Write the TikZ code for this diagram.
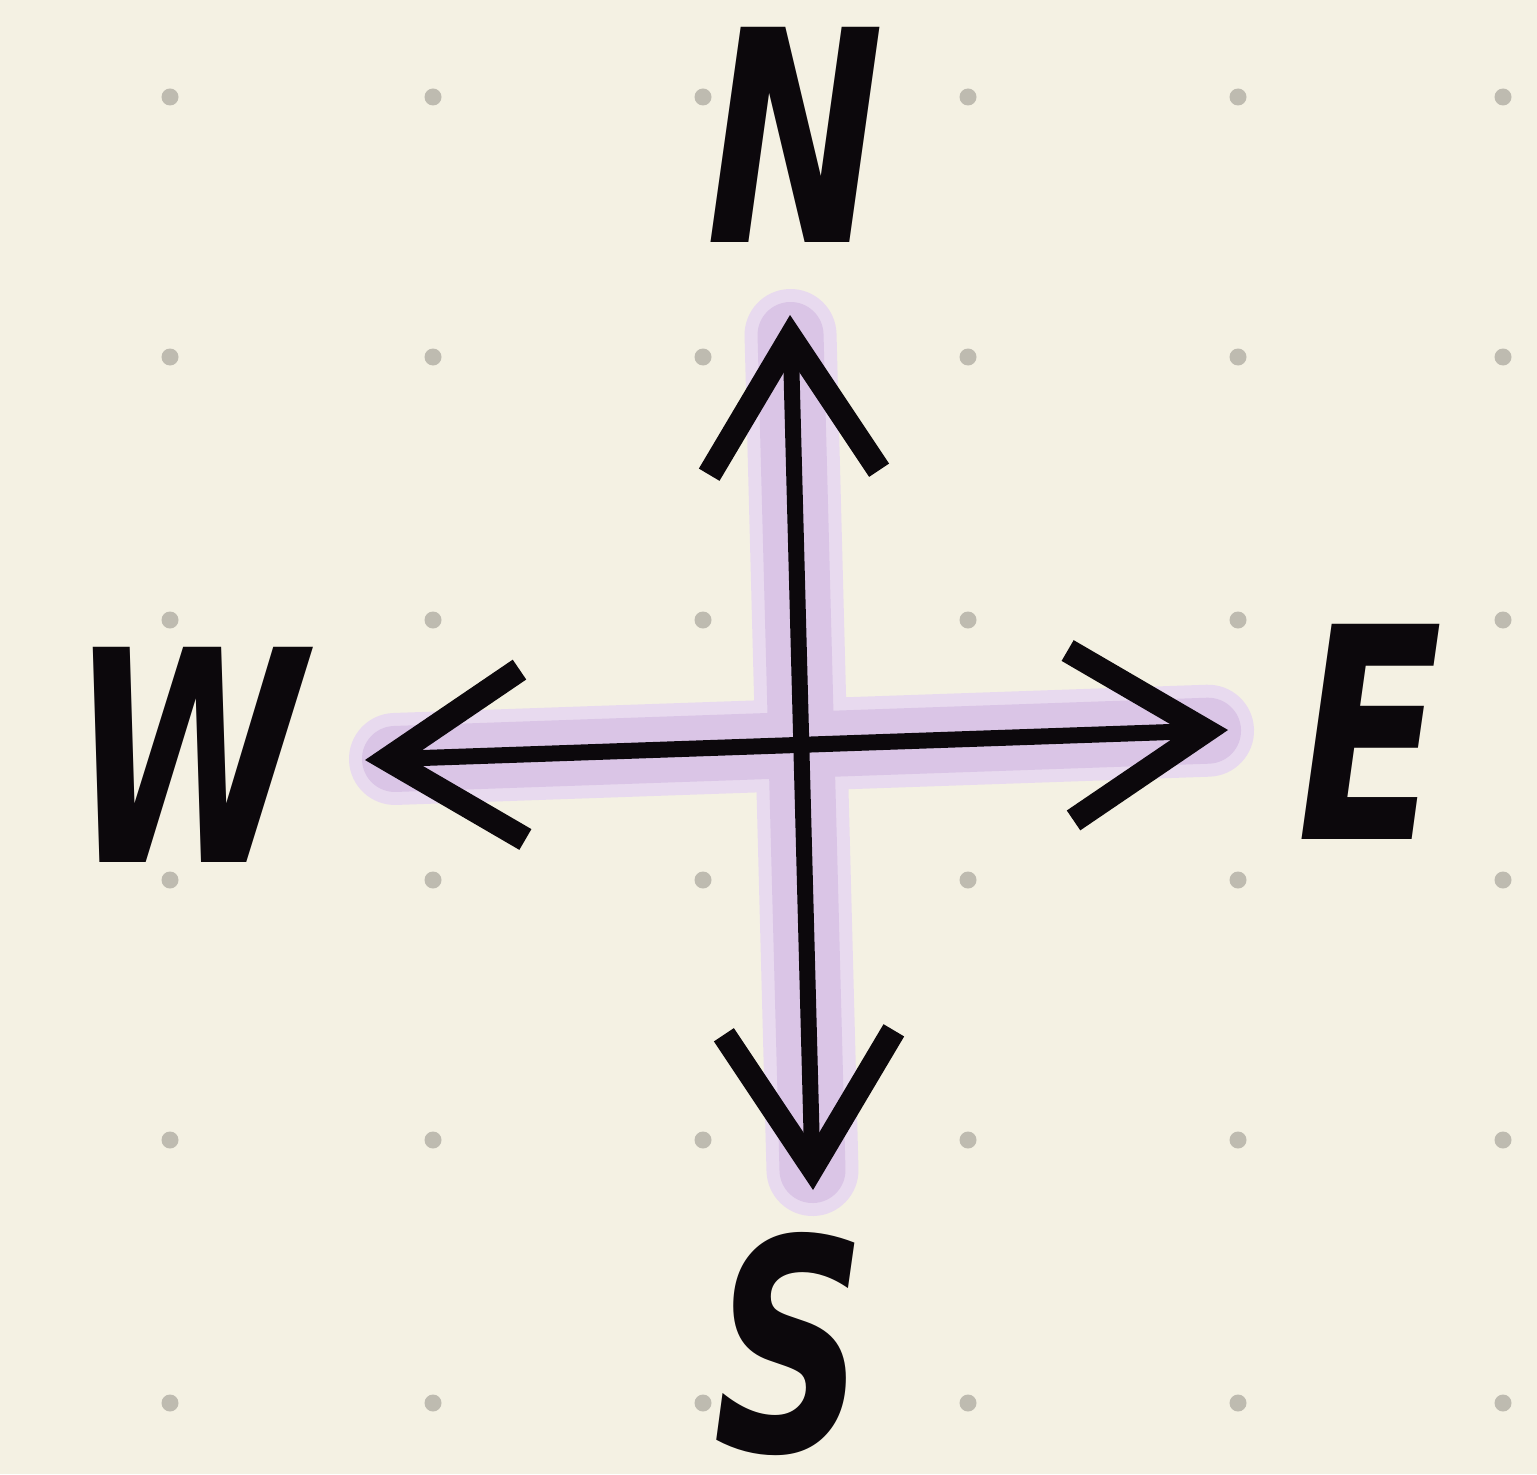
\documentclass[tikz,border=0pt]{standalone}
\usepackage{xcolor}
\usepackage{fontspec}
\setmainfont{DejaVu Sans}
\usetikzlibrary{arrows.meta, calc}
\definecolor{paperC}{HTML}{F4F1E3}
\definecolor{dotC}{HTML}{BEBBB0}
\definecolor{inkC}{HTML}{0C080C}
\definecolor{glowC}{HTML}{E8DAEF}
\definecolor{markC}{HTML}{DAC5E6}

\begin{document}
\begin{tikzpicture}[
  x=1cm,
  y=1cm,
  line cap=round,
  line join=round,
  dirlabel/.style={inner sep=0pt, text=inkC, xscale=0.72, transform shape,
    font=\fontsize{84}{84}\selectfont\bfseries\itshape},
  barb/.style={line width=0.16cm, inkC,
    {Straight Barb[length=13.5mm, width=17mm, line width=2.4mm]}-{Straight Barb[length=13.5mm, width=17mm, line width=2.4mm]}}
]

\coordinate (O) at (7.95,7.29);
\coordinate (nTip) at (7.90,11.59);
\coordinate (sTip) at (8.13,2.84);
\coordinate (eTip) at (12.28,7.44);
\coordinate (wTip) at (3.65,7.14);

% Paper
\fill[paperC] (0,0) rectangle (15.37,14.74);
\useasboundingbox (0,0) rectangle (15.37,14.74);

% Dot grid
\foreach \x in {1.70,4.33,7.03,9.68,12.38,15.03}{
  \foreach \y in {0.71,3.34,5.94,8.54,11.17,13.77}{
    \fill[dotC] (\x,\y) circle (0.085);
  }
}

% Highlighter strokes
\draw[glowC, line width=0.92cm, shorten <=0.2cm, shorten >=0.2cm] (nTip) -- (sTip);
\draw[glowC, line width=0.92cm, shorten <=0.3cm, shorten >=0.2cm] (wTip) -- (eTip);
\draw[markC, line width=0.66cm, shorten <=0.2cm, shorten >=0.2cm] (nTip) -- (sTip);
\draw[markC, line width=0.66cm, shorten <=0.3cm, shorten >=0.2cm] (wTip) -- (eTip);

% Compass arrows
\draw[barb] (sTip) -- (nTip);
\draw[barb] (wTip) -- (eTip);

% Labels
\node[dirlabel] (N) at (7.95,13.39) {N};
\node[dirlabel] (S) at (7.90,1.30) {S};
\node[dirlabel] (E) at (13.70,7.42) {E};
\node[dirlabel] (W) at (1.88,7.19) {W};

\end{tikzpicture}
\end{document}
